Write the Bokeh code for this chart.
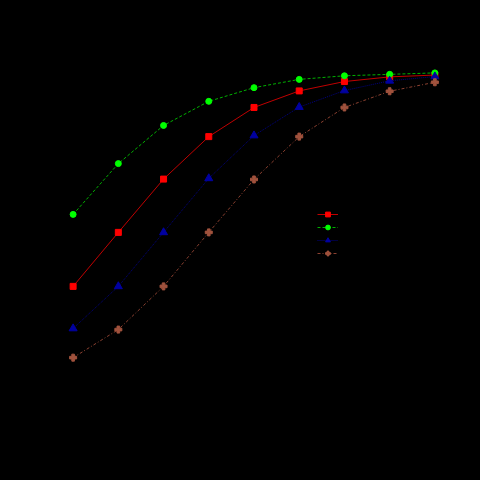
from bokeh.plotting import figure
from bokeh.models import Legend, LegendItem, Range1d
from bokeh.embed import file_html
from bokeh.resources import INLINE

x = [1, 2, 3, 4, 5, 6, 7, 8, 9]
series_red = [0.317, 0.467, 0.615, 0.733, 0.814, 0.860, 0.886, 0.899, 0.904]
series_green = [0.517, 0.658, 0.764, 0.831, 0.869, 0.892, 0.902, 0.906, 0.910]
series_blue = [0.200, 0.317, 0.467, 0.617, 0.736, 0.815, 0.861, 0.888, 0.900]
series_brown = [0.119, 0.197, 0.317, 0.467, 0.614, 0.733, 0.814, 0.859, 0.884]
names = ["Series A", "Series B", "Series C", "Series D"]

p = figure(frame_width=407, frame_height=360, output_backend="svg", toolbar_location=None,
           min_border_left=50, min_border_right=23, min_border_top=40, min_border_bottom=80,
           x_range=Range1d(0.5, 9.5), y_range=Range1d(0, 1))
p.background_fill_color = None
p.border_fill_color = None
p.styles = {"background-color": "black"}
p.outline_line_color = None
p.grid.visible = False
for ax in [p.xaxis, p.yaxis]:
    ax.axis_line_color = "black"
    ax.major_tick_line_color = "black"
    ax.minor_tick_line_color = None
    ax.major_label_text_color = "black"

r1 = p.line(x, series_red, line_color="#c00000", line_width=1)
m1 = p.scatter(x, series_red, marker="square", size=6, fill_color="#ff0000", line_color="#ff0000")
r2 = p.line(x, series_green, line_color="#00b000", line_width=1, line_dash="3 2")
m2 = p.scatter(x, series_green, marker="circle", size=6, fill_color="#00ff00", line_color="#00ff00")
r3 = p.line(x, series_blue, line_color="#000080", line_width=1, line_dash="1 1")
m3 = p.scatter(x, series_blue, marker="triangle", size=8, fill_color="#0000a0", line_color="#0000a0")
r4 = p.line(x, series_brown, line_color="#8b4030", line_width=1, line_dash="3 2 1 2")
m4 = p.scatter(x, series_brown, marker="plus", size=7, fill_color="#a0523d", line_color="#a0523d")

legend = Legend(items=[LegendItem(label=names[0], renderers=[r1, m1]),
                       LegendItem(label=names[1], renderers=[r2, m2]),
                       LegendItem(label=names[2], renderers=[r3, m3]),
                       LegendItem(label=names[3], renderers=[r4, m4])],
                location=(267, 141), padding=0, margin=0, spacing=1,
                glyph_width=21, glyph_height=12, label_height=12,
                label_text_font_size="10px", label_text_color="black",
                background_fill_color=None, border_line_color=None)
p.add_layout(legend, "center")

open("out.html", "w").write(file_html(p, INLINE))
